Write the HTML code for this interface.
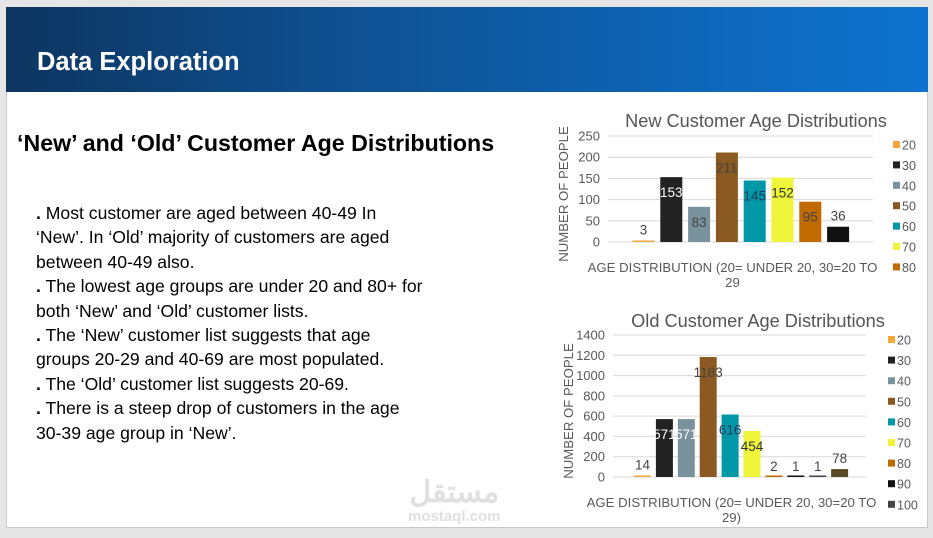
<!DOCTYPE html>
<html><head><meta charset="utf-8"><style>
body{margin:0;width:933px;height:538px;background:#e6e6e6;overflow:hidden;font-family:"Liberation Sans",Arial,sans-serif;}
#slide{position:absolute;left:6px;top:7px;width:922px;height:521px;background:#fff;border:1px solid #c8c8c8;box-sizing:border-box;}
#hdr{position:absolute;left:6px;top:7px;width:922px;height:85px;background:linear-gradient(90deg,#0d3560 0%,#0f4f8f 35%,#0e66b8 75%,#0e73cf 100%);}
#hdr h1{margin:0;position:absolute;left:31px;top:41px;color:#fff;font-size:25.5px;font-weight:bold;}
#h2{position:absolute;left:17px;top:130px;font-size:23.2px;font-weight:bold;color:#000;margin:0;}
#body{position:absolute;left:36px;top:201px;width:440px;font-size:17.6px;line-height:24.4px;color:#000;}
#body b{font-weight:bold}
#wm{position:absolute;left:408px;top:478px;color:#e0e0e0;font-family:"Liberation Sans","Noto Sans CJK SC",sans-serif;text-align:center;}
svg{position:absolute;left:0;top:0}
</style></head><body>
<div id="slide"></div>
<div id="hdr"><h1>Data Exploration</h1></div>
<h2 id="h2">‘New’ and ‘Old’ Customer Age Distributions</h2>
<div id="body">
<b>.</b> Most customer are aged between 40-49 In<br>‘New’. In ‘Old’ majority of customers are aged<br>between 40-49 also.<br>
<b>.</b> The lowest age groups are under 20 and 80+ for<br>both ‘New’ and ‘Old’ customer lists.<br>
<b>.</b> The ‘New’ customer list suggests that age<br>groups 20-29 and 40-69 are most populated.<br>
<b>.</b> The ‘Old’ customer list suggests 20-69.<br>
<b>.</b> There is a steep drop of customers in the age<br>30-39 age group in ‘New’.
</div>
<div id="wm"><div style="font-size:30px;font-weight:bold;line-height:30px">مستقل</div><div style="font-size:15px;font-weight:bold">mostaql.com</div></div>
<svg id="chart" width="933" height="538"></svg>
<script>
const newCats=["20","30","40","50","60","70","80","90"];
const newVals=[3,153,83,211,145,152,95,36];
const newTicks=[0,50,100,150,200,250];
const oldLegend=["20","30","40","50","60","70","80","90","100"];
const oldVals=[14,571,571,1183,616,454,2,1,1,78];
const oldTicks=[0,200,400,600,800,1000,1200,1400];
const newColors=["#f4a83a","#222222","#7a929e","#8b5a22","#0097a7","#eef53a","#c06a00","#111111"];
const oldColors=["#f4a83a","#222222","#7a929e","#8b5a22","#0097a7","#eef53a","#c06a00","#111111","#444444","#5a4a2a"];
const newLabelCol=["#444","#fff","#444","#444","#1f3a5a","#333","#444","#fff"];
const oldLabelCol=["#444","#fff","#fff","#444","#1f3a5a","#333","#444","#444","#444","#444"];
const svg=document.getElementById('chart');
const NS="http://www.w3.org/2000/svg";
function mk(t,a){const e=document.createElementNS(NS,t);for(const k in a)e.setAttribute(k,a[k]);svg.appendChild(e);return e;}
function draw(cfg){
  const {x0,x1,y0,y1,max,ticks,vals,colors,lblCol,first,step,bw,title,titleX,titleY,legend,legX,legY,legStep,name}=cfg;
  const ys=v=>y0-(v/max)*(y0-y1);
  const xs=i=>first+step*i;
  let t=mk('text',{x:titleX,y:titleY,'font-size':18.2,fill:'#555','text-anchor':'middle'});t.textContent=title;
  
  ticks.forEach(v=>{
    const l=mk('line',{x1:x0,x2:x1,y1:ys(v),y2:ys(v),stroke:'#d9d9d9','stroke-width':1});
    
    const tx=mk('text',{x:x0-8,y:ys(v)+4.5,'font-size':13,fill:'#595959','text-anchor':'end'});tx.textContent=v;
    
  });
  vals.forEach((v,i)=>{
    const h=Math.max(y0-ys(v),1.5);
    const r=mk('rect',{x:xs(i)-bw/2,y:y0-h,width:bw,height:h,fill:colors[i]});
    
    const inside=h>30;
    const ly=inside?ys(v)+20:ys(v)-6;
    const tx=mk('text',{x:xs(i),y:ly,'font-size':13.5,fill:inside?lblCol[i]:'#444','text-anchor':'middle'});tx.textContent=v;
    
  });
  const yl=mk('text',{x:0,y:0,'font-size':13.2,fill:'#595959','text-anchor':'middle',transform:`translate(${x0-40},${(y0+y1)/2+5}) rotate(-90)`});
  yl.textContent='NUMBER OF PEOPLE';
  const xl1=mk('text',{x:(x0+x1)/2-8,y:y0+30,'font-size':13.2,fill:'#595959','text-anchor':'middle'});xl1.textContent='AGE DISTRIBUTION (20= UNDER 20, 30=20 TO';
  
  const xl2=mk('text',{x:(x0+x1)/2-8,y:y0+45,'font-size':13.2,fill:'#595959','text-anchor':'middle'});xl2.textContent=cfg.x2;
  
  legend.forEach((c,i)=>{
    const y=legY+legStep*i;
    const r=mk('rect',{x:legX,y:y-4,width:7,height:7,fill:colors[i]});
    
    const tx=mk('text',{x:legX+9,y:y+4.5,'font-size':12.5,fill:'#595959'});tx.textContent=c;
    
  });
}
draw({name:'new-chart',x0:608,x1:873,y0:242,y1:136,max:250,ticks:newTicks,vals:newVals,colors:newColors,lblCol:newLabelCol,
  first:643.5,step:27.8,bw:22,title:'New Customer Age Distributions',titleX:756,titleY:127,legend:newCats.slice(0,7),legX:893,legY:145,legStep:20.4,x2:'29'});
draw({name:'old-chart',x0:613,x1:866,y0:477,y1:335,max:1400,ticks:oldTicks,vals:oldVals,colors:oldColors,lblCol:oldLabelCol,
  first:642.5,step:21.9,bw:17,title:'Old Customer Age Distributions',titleX:758,titleY:327,legend:oldLegend,legX:888,legY:340,legStep:20.6,x2:'29)'});
</script>
</body></html>
